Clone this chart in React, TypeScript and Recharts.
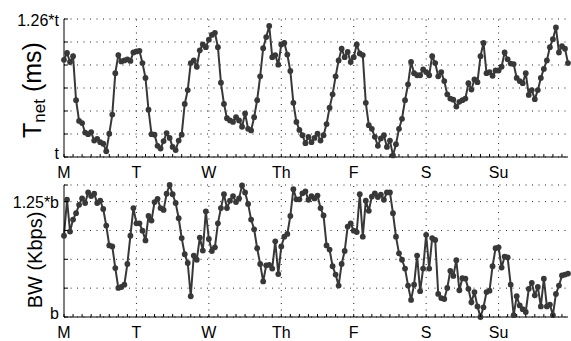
import React from 'react';
import { LineChart, Line, XAxis, YAxis, CartesianGrid, ReferenceLine } from 'recharts';

// one point per hour over a week, Monday 00:00 first
const DAY_LABELS = ['M', 'T', 'W', 'Th', 'F', 'S', 'Su'];
const DAY_STARTS = [0, 24, 48, 72, 96, 120, 144];
const HOURS = Array.from({ length: 168 }, (_, i) => i);
const MINOR_TICKS = HOURS.filter((h) => h % 3 === 0);

// network delay, as a multiple of t
const TNET = [
  1.183, 1.196, 1.179, 1.190, 1.107, 1.068, 1.064, 1.046, 1.043, 1.047,
  1.031, 1.034, 1.028, 1.025, 1.011, 1.044, 1.080, 1.158, 1.192, 1.180,
  1.182, 1.184, 1.181, 1.197, 1.199, 1.200, 1.177, 1.149, 1.089, 1.043,
  1.042, 1.021, 1.016, 1.030, 1.045, 1.036, 1.019, 1.013, 1.031, 1.042,
  1.100, 1.126, 1.177, 1.182, 1.170, 1.201, 1.212, 1.207, 1.221, 1.230,
  1.234, 1.207, 1.140, 1.100, 1.073, 1.069, 1.066, 1.075, 1.069, 1.057,
  1.082, 1.053, 1.050, 1.075, 1.107, 1.152, 1.205, 1.226, 1.247, 1.188,
  1.192, 1.174, 1.212, 1.215, 1.193, 1.162, 1.102, 1.066, 1.051, 1.041,
  1.026, 1.038, 1.028, 1.036, 1.044, 1.031, 1.041, 1.062, 1.093, 1.118,
  1.152, 1.182, 1.204, 1.188, 1.198, 1.179, 1.188, 1.212, 1.195, 1.192,
  1.102, 1.060, 1.053, 1.038, 1.021, 1.035, 1.041, 1.019, 1.031, 1.003,
  1.024, 1.053, 1.072, 1.107, 1.137, 1.179, 1.158, 1.154, 1.154, 1.165,
  1.160, 1.154, 1.190, 1.177, 1.152, 1.160, 1.143, 1.118, 1.110, 1.108,
  1.095, 1.104, 1.107, 1.110, 1.139, 1.127, 1.146, 1.141, 1.190, 1.215,
  1.158, 1.160, 1.153, 1.163, 1.163, 1.170, 1.197, 1.184, 1.176, 1.175,
  1.149, 1.143, 1.139, 1.158, 1.117, 1.126, 1.109, 1.126, 1.149, 1.166,
  1.182, 1.207, 1.222, 1.244, 1.197, 1.209, 1.204, 1.177,
];

// bandwidth, as a multiple of b
const BW = [
  1.176, 1.254, 1.185, 1.211, 1.225, 1.243, 1.257, 1.247, 1.270, 1.262,
  1.267, 1.247, 1.252, 1.234, 1.198, 1.155, 1.153, 1.106, 1.063, 1.065,
  1.070, 1.115, 1.176, 1.236, 1.203, 1.203, 1.187, 1.166, 1.219, 1.209,
  1.249, 1.256, 1.236, 1.232, 1.267, 1.286, 1.266, 1.247, 1.214, 1.171,
  1.136, 1.117, 1.045, 1.133, 1.124, 1.172, 1.144, 1.229, 1.169, 1.143,
  1.151, 1.203, 1.236, 1.266, 1.236, 1.252, 1.262, 1.249, 1.257, 1.285,
  1.270, 1.245, 1.211, 1.190, 1.149, 1.115, 1.077, 1.112, 1.113, 1.105,
  1.164, 1.093, 1.153, 1.174, 1.180, 1.219, 1.277, 1.255, 1.255, 1.268,
  1.272, 1.254, 1.262, 1.257, 1.263, 1.236, 1.220, 1.155, 1.146, 1.110,
  1.092, 1.068, 1.115, 1.143, 1.196, 1.203, 1.187, 1.184, 1.266, 1.174,
  1.252, 1.230, 1.261, 1.268, 1.260, 1.265, 1.254, 1.270, 1.270, 1.225,
  1.174, 1.138, 1.124, 1.105, 1.068, 1.037, 1.070, 1.133, 1.056, 1.105,
  1.178, 1.105, 1.171, 1.167, 1.050, 1.041, 1.039, 1.063, 1.100, 1.089,
  1.123, 1.058, 1.084, 1.083, 1.061, 1.032, 1.054, 1.023, 1.000, 1.021,
  1.054, 1.057, 1.110, 1.149, 1.151, 1.107, 1.131, 1.129, 1.070, 1.004,
  1.045, 1.025, 1.017, 1.011, 1.061, 1.074, 1.047, 1.065, 1.023, 1.083,
  1.023, 1.027, 1.004, 1.050, 1.068, 1.090, 1.092, 1.094,
];

const TNET_TICKS = [1, 1.04333, 1.08667, 1.13, 1.17333, 1.21667, 1.26];
const TNET_TICK_LABELS = ['t', '', '', '', '', '', '1.26*t'];
const BW_TICKS = [1, 1.0625, 1.125, 1.1875, 1.25, 1.286];
const BW_TICK_LABELS = ['b', '', '', '', '1.25*b', ''];

const data = HOURS.map((h, i) => ({ hour: h, tnet: TNET[i], bw: BW[i] }));

const FONT = '"Liberation Sans", Arial, Helvetica, sans-serif';
const INK = '#383838';
const DOTS = '1 5.5';

const HourTick = (props: any) => {
  const { x, y, payload } = props;
  const day = DAY_STARTS.indexOf(payload.value);
  return (
    <g>
      <line x1={x} y1={y} x2={x} y2={y - 3} stroke="#000" />
      {day >= 0 && (
        <text x={x} y={y + 15.5} textAnchor="middle" dominantBaseline="central"
          fontSize={16} fontFamily={FONT} fill="#000">
          {DAY_LABELS[day]}
        </text>
      )}
    </g>
  );
};

const valueTick = (ticks: number[], labels: string[]) => (props: any) => {
  const { x, y, payload } = props;
  const idx = ticks.indexOf(payload.value);
  const label = labels[idx];
  // the lowest label sits a little above its tick so it clears the day names
  const dy = idx === 0 ? -3.5 : 1;
  return (
    <g>
      <line x1={x} y1={y} x2={x + 4} y2={y} stroke="#000" />
      {label && (
        <text x={x - 5} y={y + dy} textAnchor="end" dominantBaseline="central"
          fontSize={16} fontFamily={FONT} fill="#000">
          {label}
        </text>
      )}
    </g>
  );
};

function Panel(props: {
  dataKey: string; ticks: number[]; labels: string[]; height: number; top: number; bottom: number;
}) {
  const { dataKey, ticks, labels, height, top, bottom } = props;
  return (
    <LineChart width={571} height={height} data={data}
      margin={{ top, right: 3, bottom: 0, left: 0 }}>
      <CartesianGrid vertical={false} stroke="#222" strokeDasharray={DOTS} />
      {DAY_STARTS.slice(1).map((d) => (
        <ReferenceLine key={d} x={d} stroke="#222" strokeDasharray={DOTS} />
      ))}
      <XAxis dataKey="hour" type="number" domain={[0, 167]} ticks={MINOR_TICKS}
        interval={0} height={bottom} tickSize={0} tickMargin={0}
        axisLine={{ stroke: '#000' }} tickLine={false} tick={<HourTick />} />
      <YAxis type="number" domain={[ticks[0], ticks[ticks.length - 1]]} ticks={ticks}
        interval={0} width={64} tickSize={0} tickMargin={0}
        axisLine={{ stroke: '#000' }} tickLine={false} tick={valueTick(ticks, labels)} />
      <Line type="linear" dataKey={dataKey} stroke={INK} strokeWidth={2}
        dot={{ r: 2.9, fill: INK, stroke: 'none' }} isAnimationActive={false} />
    </LineChart>
  );
}

export default function App() {
  return (
    <div style={{ position: 'absolute', left: 0, top: 0, width: 571, height: 341, background: '#fff' }}>
      <div style={{ position: 'absolute', left: 0, top: 0 }}>
        <Panel dataKey="tnet" ticks={TNET_TICKS} labels={TNET_TICK_LABELS} height={185} top={19} bottom={28} />
      </div>
      <div style={{ position: 'absolute', left: 0, top: 170 }}>
        <Panel dataKey="bw" ticks={BW_TICKS} labels={BW_TICK_LABELS} height={171} top={15} bottom={24} />
      </div>
      <svg width={571} height={341} style={{ position: 'absolute', left: 0, top: 0, pointerEvents: 'none' }}>
        <text transform="translate(41,90) rotate(-90)" textAnchor="middle" fontSize={25} fontFamily={FONT} fill="#000">
          T<tspan fontSize={17} dy={4}>net</tspan><tspan dy={-4}> (ms)</tspan>
        </text>
        <text transform="translate(42,260) rotate(-90)" textAnchor="middle" fontSize={20} fontFamily={FONT} fill="#000">
          BW (Kbps)
        </text>
      </svg>
    </div>
  );
}
